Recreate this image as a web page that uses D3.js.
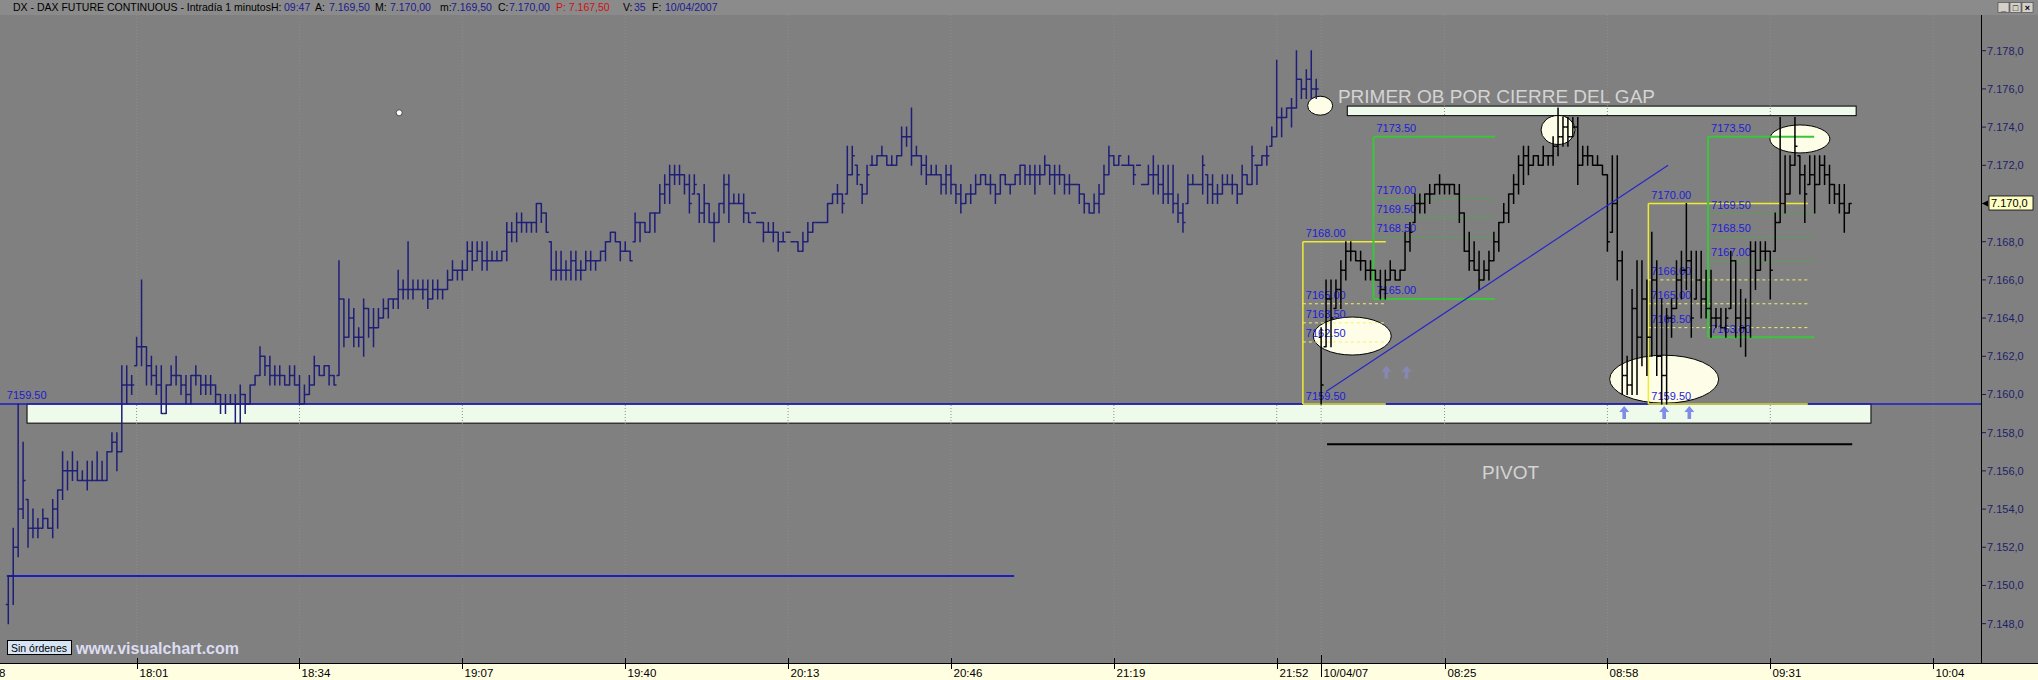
<!DOCTYPE html>
<html><head><meta charset="utf-8">
<script src="https://cdn.jsdelivr.net/npm/d3@7"></script>
<style>body{margin:0;background:#808080;overflow:hidden}svg{display:block}</style>
</head><body><svg id="c" width="2038" height="680"></svg>
<script>
// ---------- DATA ----------
// Day 1 (09/04/07) one-minute bars, 17:35 .. 22:00
const day1High = [
7150.5,7153.0,7159.5,7157.5,7154.5,7154.0,7153.5,7154.0,7153.5,7154.5,
7155.0,7157.0,7156.5,7157.0,7156.5,7156.0,7156.5,7156.5,7157.0,7156.5,
7157.0,7158.0,7158.0,7161.5,7161.5,7161.0,7163.0,7166.0,7162.5,7162.0,
7161.5,7161.5,7160.5,7161.5,7162.0,7161.0,7161.0,7161.0,7161.5,7161.0,
7161.0,7161.0,7160.5,7160.0,7160.0,7160.0,7160.0,7160.5,7160.0,7160.5,
7161.0,7162.5,7162.0,7162.0,7161.5,7161.5,7161.0,7161.5,7161.5,7161.0,
7160.5,7161.0,7162.0,7161.5,7161.5,7161.5,7161.0,7167.0,7165.0,7165.0,
7164.5,7163.5,7165.0,7164.5,7164.5,7164.5,7165.0,7165.0,7165.0,7166.5,
7166.0,7168.0,7166.0,7166.0,7166.0,7166.0,7166.0,7166.0,7165.5,7166.5,
7167.0,7166.5,7167.0,7168.0,7168.0,7168.0,7168.0,7168.0,7167.5,7167.5,
7167.5,7169.0,7169.0,7169.5,7169.5,7169.0,7169.0,7170.0,7170.0,7169.5,
7168.0,7167.5,7167.5,7167.0,7167.5,7167.5,7167.0,7167.5,7167.5,7167.0,
7167.5,7168.0,7168.5,7168.5,7168.0,7168.0,7167.5,7169.5,7169.0,7169.0,
7169.5,7169.5,7171.0,7171.5,7172.0,7172.0,7172.0,7171.5,7171.5,7171.5,
7170.5,7171.0,7170.0,7169.5,7170.0,7171.5,7171.5,7170.5,7170.5,7170.5,
7169.5,7169.5,7169.0,7169.0,7169.0,7169.0,7168.5,7168.5,7168.5,7168.0,
7168.0,7168.5,7169.0,7169.0,7169.0,7169.0,7170.0,7170.5,7171.0,7170.5,
7173.0,7173.0,7172.0,7171.0,7172.0,7172.5,7172.5,7173.0,7172.5,7172.5,
7172.5,7174.0,7174.0,7175.0,7173.0,7172.5,7172.5,7172.0,7172.0,7171.5,
7172.0,7172.0,7171.0,7171.0,7170.5,7171.0,7171.5,7171.5,7171.5,7171.5,
7171.0,7171.5,7171.5,7171.0,7171.5,7172.0,7172.0,7172.0,7172.0,7172.0,
7172.5,7172.0,7172.0,7172.0,7171.5,7171.5,7171.0,7171.0,7170.5,7170.0,
7170.5,7171.0,7172.0,7173.0,7172.5,7172.5,7172.0,7172.5,7172.0,7172.0,
7171.0,7172.0,7172.5,7172.0,7172.0,7172.0,7172.0,7170.5,7170.0,7171.5,
7171.5,7171.0,7172.5,7171.5,7171.5,7171.0,7171.5,7171.5,7171.5,7171.0,
7172.0,7171.5,7173.0,7172.0,7172.5,7173.0,7174.0,7177.5,7175.0,7175.0,
7175.5,7178.0,7176.5,7177.0,7178.0,7176.5];
const day1Low = [
7148.0,7149.0,7151.5,7153.5,7152.0,7152.5,7152.5,7153.0,7153.0,7152.5,
7153.0,7154.5,7155.0,7155.5,7155.5,7155.5,7155.0,7155.5,7155.5,7155.5,
7155.5,7157.0,7156.0,7157.0,7159.5,7160.0,7161.5,7161.5,7160.5,7160.5,
7160.0,7159.0,7159.0,7160.5,7160.5,7160.0,7159.5,7159.5,7160.5,7160.0,
7160.0,7160.0,7159.5,7159.0,7159.0,7159.5,7158.5,7158.5,7159.0,7159.5,
7160.5,7161.0,7161.0,7160.5,7160.5,7160.5,7160.5,7160.5,7160.5,7159.5,
7159.5,7160.0,7160.5,7161.0,7161.0,7160.5,7160.5,7161.0,7162.5,7163.0,
7162.5,7162.5,7162.0,7163.0,7162.5,7163.5,7164.0,7164.0,7164.5,7164.5,
7165.0,7165.0,7165.0,7165.5,7165.0,7164.5,7165.0,7165.0,7165.0,7165.5,
7166.0,7166.0,7166.0,7166.5,7166.5,7167.0,7166.5,7166.5,7167.0,7167.0,
7167.0,7167.0,7168.0,7168.0,7168.5,7168.5,7168.5,7168.5,7169.0,7168.5,
7166.0,7166.0,7166.0,7166.0,7166.0,7166.0,7166.0,7166.5,7166.5,7166.5,
7167.0,7167.0,7168.0,7168.0,7167.0,7167.5,7167.0,7168.0,7168.0,7168.5,
7168.5,7168.5,7169.5,7170.0,7170.0,7171.0,7171.0,7170.5,7169.5,7170.5,
7169.0,7169.0,7169.0,7168.0,7169.0,7169.5,7169.0,7170.0,7170.0,7169.0,
7169.0,7169.5,7169.0,7168.0,7168.5,7168.0,7167.5,7168.0,7168.5,7168.0,
7167.5,7167.5,7168.0,7168.5,7169.0,7169.0,7169.0,7170.0,7170.0,7169.5,
7170.5,7171.5,7171.0,7170.0,7170.5,7172.0,7172.0,7172.5,7172.0,7172.0,
7172.0,7172.5,7173.0,7172.0,7172.5,7171.5,7171.0,7171.5,7171.5,7170.5,
7170.5,7170.5,7170.0,7169.5,7170.0,7170.0,7170.5,7171.0,7171.0,7170.5,
7170.0,7170.5,7171.0,7170.5,7171.0,7171.0,7171.0,7171.0,7170.5,7171.0,
7171.5,7171.0,7170.5,7171.0,7170.5,7170.5,7171.0,7170.0,7169.5,7169.5,
7169.5,7169.5,7170.5,7171.5,7172.0,7172.0,7172.0,7172.0,7171.0,7172.0,
7171.0,7171.0,7170.5,7170.5,7170.0,7170.0,7169.5,7169.0,7168.5,7170.0,
7171.0,7171.0,7170.5,7170.0,7170.0,7170.0,7170.5,7171.0,7170.5,7170.0,
7170.5,7171.0,7171.0,7171.0,7172.0,7172.0,7173.0,7173.5,7173.5,7174.5,
7174.0,7175.0,7175.5,7175.5,7175.5,7175.5];
const day1Close = [
7150.5,7152.0,7154.0,7155.5,7153.0,7153.0,7153.0,7153.5,7153.0,7154.0,
7155.0,7156.0,7156.0,7156.0,7155.5,7155.5,7155.5,7155.5,7155.5,7155.5,
7157.0,7157.5,7157.0,7160.5,7160.5,7160.5,7162.5,7162.5,7161.5,7161.0,
7160.5,7159.0,7160.5,7161.0,7161.0,7160.5,7160.0,7161.0,7161.0,7160.5,
7160.5,7160.5,7160.0,7159.5,7159.5,7159.5,7159.5,7160.0,7159.5,7160.5,
7161.0,7162.0,7161.5,7161.0,7161.0,7161.0,7160.5,7161.0,7160.5,7159.5,
7160.0,7160.5,7161.5,7161.0,7161.5,7161.0,7160.5,7165.0,7163.0,7164.0,
7163.0,7163.0,7164.5,7163.5,7163.5,7164.0,7164.5,7165.0,7165.0,7165.5,
7165.5,7165.5,7165.5,7165.5,7165.5,7165.0,7165.5,7165.5,7165.5,7166.0,
7166.5,7166.5,7166.5,7167.5,7167.0,7167.5,7167.0,7167.0,7167.0,7167.0,
7167.5,7168.5,7168.5,7169.0,7169.0,7169.0,7169.0,7170.0,7169.5,7168.5,
7166.5,7166.5,7166.5,7166.5,7167.0,7166.5,7166.5,7167.0,7167.0,7167.0,
7167.5,7168.0,7168.5,7168.0,7167.5,7167.5,7167.0,7169.0,7169.0,7168.5,
7169.5,7169.5,7170.5,7171.0,7171.5,7171.5,7171.5,7171.0,7170.0,7171.0,
7169.5,7170.0,7169.0,7169.0,7170.0,7171.0,7170.0,7170.0,7170.0,7169.5,
7169.0,7169.5,7169.0,7168.5,7168.5,7168.5,7168.0,7168.0,7168.5,7168.0,
7167.5,7168.0,7168.5,7169.0,7169.0,7169.0,7170.0,7170.5,7170.5,7170.0,
7171.5,7172.5,7171.5,7170.5,7171.5,7172.0,7172.5,7172.5,7172.0,7172.0,
7172.5,7173.5,7173.5,7172.5,7172.5,7172.0,7171.5,7171.5,7171.5,7171.0,
7171.5,7171.0,7170.5,7170.0,7170.5,7170.5,7171.0,7171.5,7171.0,7171.0,
7170.5,7171.5,7171.0,7171.0,7171.5,7172.0,7171.5,7171.5,7171.5,7171.5,
7172.0,7171.5,7171.5,7171.5,7171.0,7171.0,7171.0,7170.5,7170.0,7169.5,
7170.0,7170.5,7171.5,7172.5,7172.0,7172.5,7172.0,7172.0,7171.5,7172.0,
7171.0,7171.5,7171.5,7171.0,7170.5,7170.5,7170.0,7169.5,7169.0,7171.0,
7171.0,7171.0,7172.0,7171.0,7170.5,7170.5,7171.0,7171.0,7171.0,7170.5,
7171.5,7171.0,7172.5,7172.0,7172.5,7172.5,7173.5,7174.5,7174.5,7175.0,
7175.0,7176.5,7176.0,7176.5,7176.0,7176.0];
const day1FirstOpen = 7149.0;

// Day 2 (10/04/07) one-minute bars, 08:00 .. 09:47
const day2High = [
7163.5,7166.0,7166.0,7166.0,7167.0,7168.0,7168.0,7167.5,7167.5,7167.0,
7167.0,7166.5,7166.5,7166.5,7167.0,7166.5,7166.5,7168.5,7169.0,7170.5,
7170.5,7170.5,7171.0,7171.0,7171.5,7171.0,7171.0,7171.0,7171.0,7169.5,
7168.5,7168.0,7167.5,7167.0,7167.5,7168.5,7169.0,7170.0,7170.5,7171.5,
7172.5,7173.0,7173.0,7172.5,7172.5,7173.0,7172.5,7173.5,7175.0,7174.5,
7174.5,7174.5,7174.5,7173.0,7173.0,7172.5,7172.5,7172.0,7171.5,7172.5,
7172.5,7167.5,7162.0,7165.5,7167.0,7167.0,7166.0,7168.5,7167.0,7165.0,
7164.5,7165.0,7167.0,7167.5,7170.0,7167.5,7167.5,7167.5,7166.5,7166.5,
7164.5,7164.5,7164.5,7167.5,7167.0,7165.5,7165.0,7168.0,7168.0,7168.0,
7168.0,7167.5,7169.5,7174.5,7172.5,7172.5,7174.5,7172.5,7172.0,7172.5,
7172.5,7172.5,7172.5,7172.0,7171.0,7171.0,7171.0,7170.0];
const day2Low = [
7159.5,7162.5,7162.5,7164.5,7164.5,7166.0,7167.0,7167.0,7166.5,7166.0,
7166.0,7166.0,7165.0,7165.0,7166.0,7166.0,7166.0,7166.5,7167.5,7169.0,
7169.5,7169.5,7170.0,7170.5,7170.5,7170.5,7170.5,7170.5,7169.0,7167.5,
7166.5,7166.5,7165.5,7166.0,7166.0,7167.0,7167.5,7169.0,7169.0,7170.0,
7170.5,7171.0,7171.5,7172.0,7172.0,7172.0,7172.0,7172.0,7172.5,7173.0,
7173.0,7173.5,7171.0,7172.0,7172.0,7172.0,7172.0,7171.5,7167.5,7168.5,
7166.0,7160.0,7160.0,7160.0,7160.0,7161.5,7161.0,7162.0,7161.0,7159.5,
7159.5,7163.0,7164.5,7165.0,7165.5,7163.0,7165.0,7164.0,7164.0,7163.0,
7163.5,7163.5,7163.0,7164.5,7163.0,7162.5,7162.0,7163.0,7165.5,7166.5,
7167.0,7165.0,7167.5,7169.0,7169.5,7170.5,7172.0,7170.5,7169.0,7171.0,
7169.5,7171.0,7171.0,7170.0,7170.0,7169.5,7168.5,7169.5];
const day2Close = [
7160.5,7165.0,7164.0,7165.5,7166.5,7167.5,7167.5,7167.0,7167.0,7166.5,
7166.5,7166.0,7165.5,7166.0,7166.5,7166.0,7166.5,7168.0,7168.5,7170.0,
7170.0,7170.5,7170.5,7171.0,7171.0,7171.0,7171.0,7170.5,7169.5,7167.5,
7167.0,7166.5,7166.0,7166.5,7167.0,7168.0,7169.0,7169.5,7170.5,7171.0,
7172.0,7172.5,7172.0,7172.5,7172.0,7172.5,7172.5,7173.0,7173.5,7174.0,
7173.5,7174.0,7172.0,7172.5,7172.5,7172.0,7172.0,7171.5,7168.0,7170.0,
7167.0,7161.0,7160.5,7164.5,7163.0,7165.0,7163.0,7166.0,7162.0,7161.0,
7164.0,7164.5,7166.0,7166.5,7167.0,7164.0,7166.0,7165.0,7164.5,7164.0,
7164.0,7163.5,7164.0,7167.0,7164.0,7163.5,7164.0,7167.5,7166.5,7167.5,
7167.5,7166.5,7169.0,7170.0,7170.5,7172.0,7173.0,7171.5,7170.5,7171.5,
7171.0,7172.0,7171.5,7171.0,7170.5,7170.0,7169.5,7170.0];
const day2FirstOpen = 7163.0;
const day2StartIndex = 266;

// Axes
const yTickValues = [7148,7150,7152,7154,7156,7158,7160,7162,7164,7166,7168,7170,7172,7174,7176,7178];
const xTickLabels = ["17:28","18:01","18:34","19:07","19:40","20:13","20:46","21:19","21:52","10/04/07","08:25","08:58","09:31","10:04"];
const xTickIndex  = [-7,26,59,92,125,158,191,224,257,266,291,324,357,390];
const lastPrice = 7170.0;

// Header quote fields
const headerTexts = ["DX - DAX FUTURE CONTINUOUS - Intradía 1 minutos","H:","09:47","A:","7.169,50","M:","7.170,00","m:","7.169,50","C:","7.170,00","P: 7.167,50","V:","35","F:","10/04/2007"];

// Horizontal reference levels
const supportLevel = 7159.5;
const supportBandLow = 7158.5;
const lowLevel = 7150.5;
const gapBandHigh = 7175.1, gapBandLow = 7174.6;
const pivotLevel = 7157.4;

// Fibonacci boxes: [startIndex, endIndex, top, bottom]
const fibLeftYellow  = [262.3, 279.1, 7168.0, 7159.5];
const fibLeftYellowLevels = [7164.75, 7163.75, 7162.75];
const fibLeftYellowLabels = ["7168.00","7165.00","7163.50","7162.50","7159.50"];
const fibLeftGreen   = [276.6, 301.2, 7173.5, 7165.0];
const fibLeftGreenLevels = [7170.25, 7169.25, 7168.25];
const fibLeftGreenLabels = ["7173.50","7170.00","7169.50","7168.50","7165.00"];
const fibRightYellow = [332.3, 364.6, 7170.0, 7159.5];
const fibRightYellowLevels = [7166.0, 7164.75, 7163.5];
const fibRightYellowLabels = ["7170.00","7166.00","7165.00","7163.50","7159.50"];
const fibRightGreen  = [344.4, 365.9, 7173.5, 7163.0];
const fibRightGreenLevels = [7169.5, 7168.25, 7167.0];
const fibRightGreenLabels = ["7173.50","7169.50","7168.50","7167.00","7163.00"];

// Trend line [index, price]
const trendStart = [267.0, 7160.15];
const trendEnd = [336.3, 7172.0];

// Ellipses (centre index, centre price)
const ellipseCentres = [[265.8,7175.12],[314.0,7173.85],[363.0,7173.38],[272.3,7163.06],[335.5,7160.8]];
const ellipseRadii = [[12.5,9.5],[17,14.5],[30,14],[39,19],[54.5,24]];
const arrowsBright = [[327.4,7159.4],[335.5,7159.4],[340.6,7159.4]];
const arrowsFaint = [[279.2,7161.5],[283.3,7161.5]];
const markerDot = [79.2, 7174.75];

// ---------- CHART ----------
const W = 2038, H = 680, plotRight = 1982, plotTop = 15, plotBottom = 663;
const FONT = "'Liberation Sans', Arial, sans-serif";
const svg = d3.select("#c");
const x = d3.scaleLinear().domain([-1.68, 399.9]).range([0, plotRight]);
const y = d3.scaleLinear().domain([7145.94, 7179.87]).range([plotBottom, plotTop]);
const loc = d3.formatLocale({decimal: ",", thousands: ".", grouping: [3], currency: ["", ""]});
const fmt = loc.format(",.1f");

svg.append("rect").attr("width", W).attr("height", H).attr("fill", "#808080");
svg.append("rect").attr("width", W).attr("height", plotTop).attr("fill", "#8b8b8b");

// header text (fields positioned like the quote bar)
const headerX = [13,271,284,315,329,375,390,440,451,498,509,556,623,634,652,665];
const headerCol = ["#000","#000","#1a1a90","#000","#1a1a90","#000","#1a1a90","#000","#1a1a90","#000","#1a1a90","#d01010","#000","#1a1a90","#000","#1a1a90"];
svg.append("g").selectAll("text").data(headerTexts).join("text")
  .attr("x", (d, k) => headerX[k]).attr("y", 10.5).attr("font-family", FONT).attr("font-size", 10.5)
  .attr("fill", (d, k) => headerCol[k]).text(d => d);

// window buttons
[1998, 2010, 2022].forEach((bx, k) => {
  svg.append("rect").attr("x", bx).attr("y", 2.5).attr("width", 11).attr("height", 10).attr("fill", "#d4d0c8").attr("stroke", "#404040").attr("stroke-width", 0.6);
  svg.append("text").attr("x", bx + 5.5).attr("y", 11).attr("text-anchor", "middle").attr("font-family", FONT).attr("font-size", 9).attr("font-weight", "bold").attr("fill", "#000").text(["_", "□", "×"][k]);
});

const defs = svg.append("defs");
defs.append("clipPath").attr("id", "plotClip").append("rect").attr("x", 0).attr("y", plotTop).attr("width", plotRight).attr("height", plotBottom - plotTop);
const plot = svg.append("g").attr("clip-path", "url(#plotClip)");

// bands
plot.append("rect").attr("x", x(3.8)).attr("y", y(supportLevel)).attr("width", x(377.4) - x(3.8)).attr("height", y(supportBandLow) - y(supportLevel))
  .attr("fill", "#eefbea").attr("stroke", "#000").attr("stroke-width", 1);
plot.append("rect").attr("x", x(271.3)).attr("y", y(gapBandHigh)).attr("width", x(374.4) - x(271.3)).attr("height", y(gapBandLow) - y(gapBandHigh))
  .attr("fill", "#eefbea").attr("stroke", "#000").attr("stroke-width", 1);

// dotted vertical grid
plot.selectAll("line.grid").data(xTickIndex).join("line").attr("class", "grid")
  .attr("x1", d => x(d)).attr("x2", d => x(d)).attr("y1", plotTop).attr("y2", plotBottom)
  .attr("stroke", "#8c8c8c").attr("stroke-dasharray", "1,2");

// blue horizontal levels
plot.append("line").attr("x1", 0).attr("x2", plotRight).attr("y1", y(supportLevel)).attr("y2", y(supportLevel)).attr("stroke", "#1c1cc8").attr("stroke-width", 1.6);
plot.append("line").attr("x1", x(-0.3)).attr("x2", x(203.8)).attr("y1", y(lowLevel)).attr("y2", y(lowLevel)).attr("stroke", "#1c1cc0").attr("stroke-width", 2);
plot.append("text").attr("x", x(-0.3)).attr("y", y(supportLevel) - 5).attr("font-family", FONT).attr("font-size", 11).attr("fill", "#1c1cd0").text("7159.50");

// pivot line
plot.append("line").attr("x1", x(267.2)).attr("x2", x(373.6)).attr("y1", y(pivotLevel)).attr("y2", y(pivotLevel)).attr("stroke", "#000").attr("stroke-width", 2);

// ellipses
plot.selectAll("ellipse.mk").data(ellipseCentres).join("ellipse").attr("class", "mk")
  .attr("cx", d => x(d[0])).attr("cy", d => y(d[1]))
  .attr("rx", (d, k) => ellipseRadii[k][0]).attr("ry", (d, k) => ellipseRadii[k][1])
  .attr("fill", "#fefee8").attr("stroke", "#000").attr("stroke-width", 1);

// Fibonacci boxes
function fibBox(box, levels, labels, color, midColor, dashed, w) {
  const [a, b, top, bot] = box;
  const g = plot.append("g");
  g.append("line").attr("x1", x(a)).attr("x2", x(a)).attr("y1", y(top)).attr("y2", y(bot)).attr("stroke", color).attr("stroke-width", w);
  g.append("line").attr("x1", x(a)).attr("x2", x(b)).attr("y1", y(top)).attr("y2", y(top)).attr("stroke", color).attr("stroke-width", w);
  g.append("line").attr("x1", x(a)).attr("x2", x(b)).attr("y1", y(bot)).attr("y2", y(bot)).attr("stroke", color).attr("stroke-width", w);
  levels.forEach(v => g.append("line").attr("x1", x(a)).attr("x2", x(b)).attr("y1", y(v)).attr("y2", y(v))
    .attr("stroke", midColor).attr("stroke-width", 1).attr("stroke-dasharray", dashed ? "3,3" : null));
  const vals = [top, ...levels, bot];
  vals.forEach((v, k) => g.append("text").attr("x", x(a) + 3).attr("y", y(v) - 4.5)
    .attr("font-family", FONT).attr("font-size", 11).attr("fill", "#1c1cd8").text(labels[k]));
}
fibBox(fibLeftYellow, fibLeftYellowLevels, fibLeftYellowLabels, "#ecec30", "#f0f070", true, 1.5);
fibBox(fibLeftGreen, fibLeftGreenLevels, fibLeftGreenLabels, "#3cc43c", "#5e9c5e", false, 2);
fibBox(fibRightYellow, fibRightYellowLevels, fibRightYellowLabels, "#ecec30", "#f0f070", true, 1.5);
fibBox(fibRightGreen, fibRightGreenLevels, fibRightGreenLabels, "#3cc43c", "#5e9c5e", false, 2);

// OHLC bars
const bars = [];
const clamp = (v, lo, hi) => Math.max(lo, Math.min(hi, v));
day1High.forEach((h, k) => bars.push({i: k, h, l: day1Low[k], o: k === 0 ? day1FirstOpen : day1Close[k - 1], c: day1Close[k], col: "#1e1e78"}));
day2High.forEach((h, k) => bars.push({i: day2StartIndex + k, h, l: day2Low[k], o: k === 0 ? day2FirstOpen : day2Close[k - 1], c: day2Close[k], col: "#000"}));
plot.selectAll("path.bar").data(bars).join("path").attr("class", "bar")
  .attr("d", d => {
    const px = x(d.i), o = clamp(d.o, d.l, d.h), c = clamp(d.c, d.l, d.h);
    return `M${px},${y(d.h) - 0.5}V${y(d.l) + 0.5}M${px - 2.5},${y(o)}H${px}M${px},${y(c)}H${px + 2.5}`;
  })
  .attr("stroke", d => d.col).attr("stroke-width", 1.5).attr("fill", "none");

// trend line
plot.append("line").attr("x1", x(trendStart[0])).attr("y1", y(trendStart[1])).attr("x2", x(trendEnd[0])).attr("y2", y(trendEnd[1]))
  .attr("stroke", "#2626c8").attr("stroke-width", 1.2);

// arrows
function arrow(d, fill, op) {
  const px = x(d[0]), py = y(d[1]);
  plot.append("path").attr("d", `M${px},${py}L${px + 5},${py + 6}L${px + 1.8},${py + 6}L${px + 1.8},${py + 13}L${px - 1.8},${py + 13}L${px - 1.8},${py + 6}L${px - 5},${py + 6}Z`)
    .attr("fill", fill).attr("opacity", op);
}
arrowsBright.forEach(d => arrow(d, "#7f8ce8", 1));
arrowsFaint.forEach(d => arrow(d, "#8a8ed8", 0.55));

plot.append("circle").attr("cx", x(markerDot[0])).attr("cy", y(markerDot[1])).attr("r", 3).attr("fill", "#fff").attr("stroke", "#333").attr("stroke-width", 0.8);

plot.append("text").attr("x", x(269.4)).attr("y", y(7175.26)).attr("font-family", FONT).attr("font-size", 19).attr("fill", "#d4d4d4").text("PRIMER OB POR CIERRE DEL GAP");
plot.append("text").attr("x", x(298.6)).attr("y", y(7155.58)).attr("font-family", FONT).attr("font-size", 19).attr("fill", "#d4d4d4").text("PIVOT");

// ---------- AXES ----------
svg.append("line").attr("x1", plotRight - 0.5).attr("x2", plotRight - 0.5).attr("y1", plotTop).attr("y2", plotBottom).attr("stroke", "#000");
const yAxis = svg.append("g");
yTickValues.forEach(v => {
  yAxis.append("line").attr("x1", plotRight).attr("x2", plotRight + 4).attr("y1", y(v)).attr("y2", y(v)).attr("stroke", "#1a1a60");
  if (v !== lastPrice)
    yAxis.append("text").attr("x", plotRight + 5).attr("y", y(v)).attr("dy", "0.35em").attr("font-family", FONT).attr("font-size", 11).attr("fill", "#1e1e6a").text(fmt(v));
});
const ly = y(lastPrice);
svg.append("path").attr("d", `M${plotRight},${ly}L${plotRight + 6},${ly - 3}L${plotRight + 6},${ly + 3}Z`).attr("fill", "#000");
svg.append("rect").attr("x", plotRight + 7).attr("y", ly - 7.5).attr("width", 44).attr("height", 14).attr("fill", "#ffffc4").attr("stroke", "#000").attr("stroke-width", 0.8);
svg.append("text").attr("x", plotRight + 9).attr("y", ly).attr("dy", "0.36em").attr("font-family", FONT).attr("font-size", 11).attr("fill", "#000").text(fmt(lastPrice));

svg.append("rect").attr("x", 0).attr("y", plotBottom).attr("width", W).attr("height", H - plotBottom).attr("fill", "#fffee0");
svg.append("line").attr("x1", 0).attr("x2", W).attr("y1", plotBottom + 0.5).attr("y2", plotBottom + 0.5).attr("stroke", "#000");
xTickIndex.forEach((d, k) => {
  const px = Math.round(x(d)) + 0.5;
  const daySep = xTickLabels[k].includes("/");
  svg.append("line").attr("x1", px).attr("x2", px).attr("y1", daySep ? plotBottom - 8 : plotBottom - 5).attr("y2", daySep ? H - 3 : plotBottom + 6).attr("stroke", "#000");
  svg.append("text").attr("x", px + 2).attr("y", 677).attr("font-family", FONT).attr("font-size", 11.5).attr("fill", "#000").text(xTickLabels[k]);
});

svg.append("rect").attr("x", 7.5).attr("y", 640.5).attr("width", 64).attr("height", 14).attr("fill", "#d6e4f4").attr("stroke", "#000");
svg.append("text").attr("x", 11).attr("y", 651.5).attr("font-family", FONT).attr("font-size", 10.5).attr("fill", "#000").text("Sin órdenes");
svg.append("text").attr("x", 76).attr("y", 653.5).attr("font-family", FONT).attr("font-size", 16).attr("font-weight", "bold").attr("fill", "#dcdcf2").text("www.visualchart.com");
</script></body></html>
